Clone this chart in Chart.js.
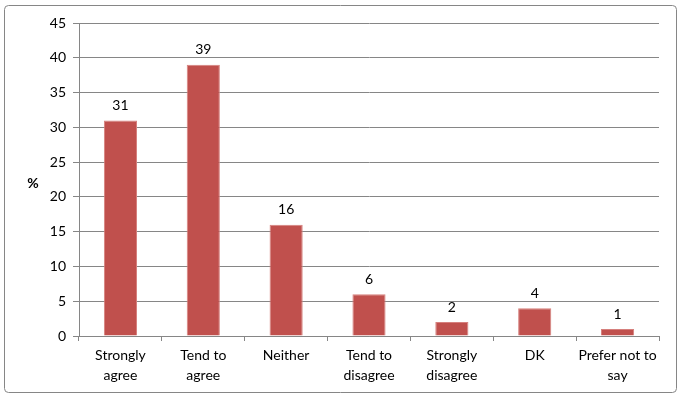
<!DOCTYPE html>
<html>
<head>
<meta charset="utf-8">
<script src="https://cdn.jsdelivr.net/npm/chart.js@4"></script>
<style>
html,body{margin:0;padding:0;background:#fff;}
#wrap{width:685px;height:400px;position:relative;}
</style>
</head>
<body>
<div id="wrap"><canvas id="chart"></canvas></div>
<script>
const categories = [["Strongly","agree"],["Tend to","agree"],"Neither",["Tend to","disagree"],["Strongly","disagree"],"DK",["Prefer not to","say"]];
const values = [31,39,16,6,2,4,1];
const yTicks = [0,5,10,15,20,25,30,35,40,45];

const font = {family:"Lato, 'Open Sans', sans-serif", size:14, lineHeight:1.4};

// frame, "%" title and value labels
const extras = {
id:"extras",
beforeDraw(chart){
const c = chart.ctx;
c.save();
c.strokeStyle = "#868686";
c.lineWidth = 1;
c.beginPath();
c.roundRect(4.5,5.5,672,387,4);
c.stroke();
c.restore();
},
afterDatasetsDraw(chart){
const c = chart.ctx;
c.save();
c.fillStyle = "#000";
c.font = "14px Lato, 'Open Sans', sans-serif";
c.textAlign = "center";
c.textBaseline = "bottom";
chart.getDatasetMeta(0).data.forEach((bar,i) => {
c.fillText(values[i], bar.x, bar.y - 8);
});
c.font = "bold 14px Lato, 'Open Sans', sans-serif";
c.textBaseline = "middle";
c.fillText("%", 33, 183);
c.restore();
}
};

new Chart(document.getElementById("chart"),{
type:"bar",
data:{
labels:categories,
datasets:[{
data:values,
backgroundColor:"#C0504D",
borderColor:"#D6807D",
borderWidth:1,
barPercentage:0.4,
categoryPercentage:1
}]
},
options:{
responsive:true,
maintainAspectRatio:false,
animation:false,
devicePixelRatio:1,
layout:{padding:{left:0,right:26,top:23,bottom:0}},
plugins:{legend:{display:false},tooltip:{enabled:false}},
scales:{
x:{
afterFit(s){ s.height = 64; },
grid:{offset:true,drawOnChartArea:false,drawTicks:true,tickLength:5,color:"#868686"},
border:{color:"#868686"},
ticks:{color:"#000",font:font,padding:5,maxRotation:0,autoSkip:false}
},
y:{
min:0,max:45,
afterFit(s){ s.width = 79; },
afterBuildTicks(s){ s.ticks = yTicks.map(v => ({value:v})); },
grid:{color:"#868686",drawTicks:true,tickLength:6},
border:{color:"#868686"},
ticks:{color:"#000",font:{family:font.family,size:14},padding:7}
}
}
},
plugins:[extras]
});
</script>
</body>
</html>
